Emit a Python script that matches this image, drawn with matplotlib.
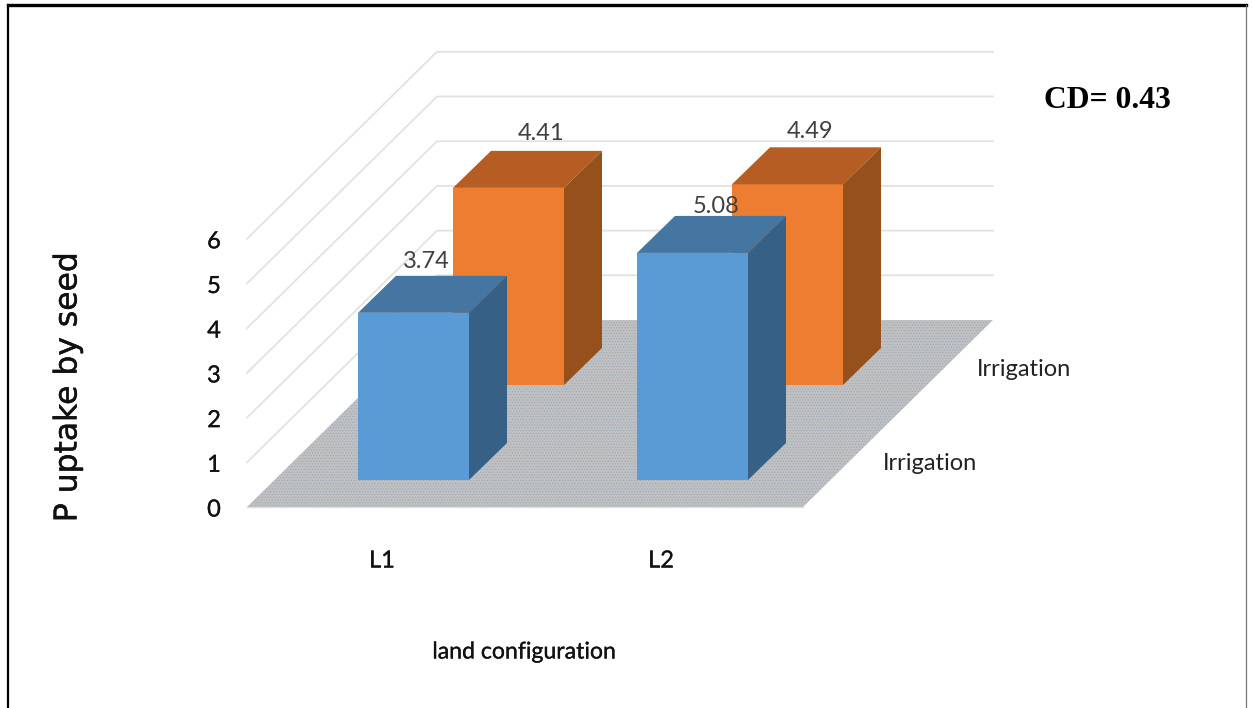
import matplotlib
matplotlib.use("Agg")
import matplotlib.pyplot as plt
import matplotlib.patheffects as pe
from matplotlib.patches import Polygon

# ---- data ----
categories = ["L1", "L2"]
series_labels = ["Irrigation", "Irrigation"]
front_values = [3.74, 5.08]
back_values = [4.41, 4.49]
value_ticks = [0, 1, 2, 3, 4, 5, 6]
y_title = "P uptake by seed"
x_title = "land configuration"
note = "CD= 0.43"

# ---- projection (layout only) ----
UNIT = 44.7
FLOOR_LEFT, FLOOR_RIGHT, FLOOR_FRONT = 247, 803, 507
DEPTH_DX, DEPTH_DY = 190, 187
CAT_X0, CAT_STEP, BAR_W = 358, 279, 111
ROW_DX, ROW_DY, ROW_BASE = 95, 95, 480
BAR_DX, BAR_DY = 38, 37


def val(v):
    return v * UNIT


plt.rcParams["hatch.linewidth"] = 0.35
fig = plt.figure(figsize=(12.52, 7.08), dpi=100, facecolor="white")
ax = fig.add_axes([0, 0, 1, 1])
ax.set_xlim(0, 1252)
ax.set_ylim(708, 0)
ax.axis("off")

# frame
ax.plot([8, 8], [5, 708], color="black", lw=1.6, zorder=1)
ax.plot([8, 1246], [5, 5], color="black", lw=2.4, zorder=1)
ax.plot([1245.5, 1245.5], [5, 708], color="#777777", lw=0.9, zorder=1)

# walls
grid = "#E2E2E2"
for k in value_ticks[1:]:
    yl = FLOOR_FRONT - val(k)
    ax.plot([FLOOR_LEFT, FLOOR_LEFT + DEPTH_DX, FLOOR_RIGHT + DEPTH_DX],
            [yl, yl - DEPTH_DY, yl - DEPTH_DY], color=grid, lw=1.3, zorder=2)

# floor
floor = [(FLOOR_LEFT, FLOOR_FRONT), (FLOOR_RIGHT, FLOOR_FRONT),
         (FLOOR_RIGHT + DEPTH_DX, FLOOR_FRONT - DEPTH_DY),
         (FLOOR_LEFT + DEPTH_DX, FLOOR_FRONT - DEPTH_DY)]
ax.add_patch(Polygon(floor, closed=True, facecolor="#C0C0C0", edgecolor="none", zorder=3))
ax.add_patch(Polygon(floor, closed=True, facecolor="none", edgecolor="#93A6C0", lw=0,
                     hatch="......", zorder=3.1))
ax.plot([FLOOR_LEFT, FLOOR_RIGHT], [FLOOR_FRONT, FLOOR_FRONT], color="#DDDDDD", lw=1, zorder=3.2)


def bar(i, row, v, cols, z):
    x0 = CAT_X0 + i * CAT_STEP + row * ROW_DX
    x1 = x0 + BAR_W
    yb = ROW_BASE - row * ROW_DY
    yt = yb - val(v)
    front, top, side = cols
    ax.add_patch(Polygon([(x0, yb), (x1, yb), (x1, yt), (x0, yt)], facecolor=front, edgecolor="none", zorder=z))
    ax.add_patch(Polygon([(x0, yt), (x1, yt), (x1 + BAR_DX, yt - BAR_DY), (x0 + BAR_DX, yt - BAR_DY)],
                         facecolor=top, edgecolor="none", zorder=z))
    ax.add_patch(Polygon([(x1, yb), (x1, yt), (x1 + BAR_DX, yt - BAR_DY), (x1 + BAR_DX, yb - BAR_DY)],
                         facecolor=side, edgecolor="none", zorder=z))
    return x0, yt - BAR_DY


tfont = "Lato"
FS = 17
label_col = "#404040"
orange = ("#ED7D31", "#B55D23", "#96501C")
blue = ("#5B9BD5", "#4575A1", "#376087")
back_off = [(88, -17), (78, -16)]
front_off = [(68, -14), (79, -9)]
semi = [pe.withStroke(linewidth=0.2, foreground="#111111")]
for i, v in enumerate(back_values):
    x, y = bar(i, 1, v, orange, 4 + 0.1 * i)
    ax.text(x + back_off[i][0], y + back_off[i][1], f"{v:.2f}", ha="center", va="center",
            fontsize=FS, color=label_col, family=tfont, zorder=9)
for i, v in enumerate(front_values):
    x, y = bar(i, 0, v, blue, 6 + 0.1 * i)
    ax.text(x + front_off[i][0], y + front_off[i][1], f"{v:.2f}", ha="center", va="center",
            fontsize=FS, color=label_col, family=tfont, zorder=9)

# tick labels
for k in value_ticks:
    ax.text(214, FLOOR_FRONT + 3 - val(k), str(k), ha="center", va="center",
            fontsize=FS, color="#111111", family=tfont, path_effects=semi)
for i, c in enumerate(categories):
    ax.text(382 + i * 279, 561, c, ha="center", va="center", fontsize=FS, color="#111111",
            family=tfont, path_effects=semi)
ax.text(930, 464, series_labels[0], ha="center", va="center", fontsize=FS, color="#222222", family=tfont)
ax.text(1024, 369, series_labels[1], ha="center", va="center", fontsize=FS, color="#222222", family=tfont)

ax.text(524, 652, x_title, ha="center", va="center", fontsize=16.6, color="#111111", family=tfont,
        path_effects=semi)
ax.text(68, 387, y_title, rotation=90, ha="center", va="center", fontsize=22.6,
        color="#111111", family="DejaVu Sans",
        path_effects=[pe.withStroke(linewidth=0.3, foreground="#111111")])
ax.text(1107, 100, note, ha="center", va="center", fontsize=22.8, fontweight="bold",
        color="black", family="Liberation Serif")

fig.savefig("out.png", dpi=100, facecolor="white")
